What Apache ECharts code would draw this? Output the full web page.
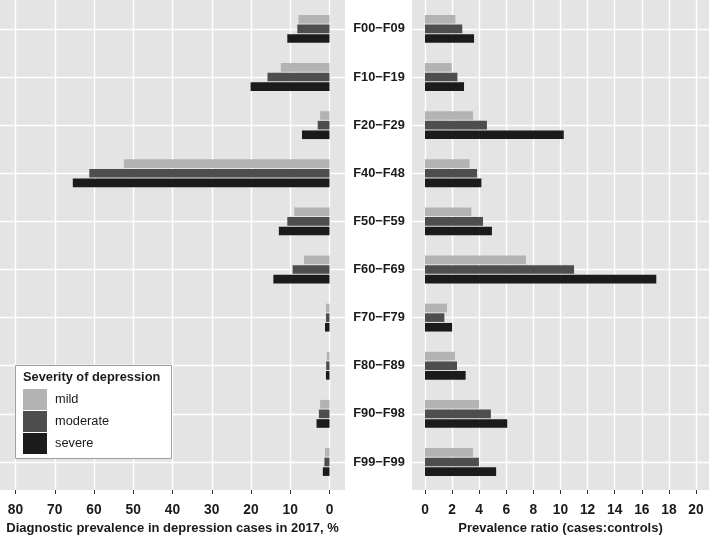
<!DOCTYPE html>
<html><head><meta charset="utf-8">
<script src="https://cdn.jsdelivr.net/npm/echarts@6/dist/echarts.min.js"></script>
<style>html,body{margin:0;padding:0;background:#fff}#c{width:709px;height:537px}</style>
</head><body><div id="c"></div>
<script>
const categories = ['F00\u2212F09','F10\u2212F19','F20\u2212F29','F40\u2212F48','F50\u2212F59','F60\u2212F69','F70\u2212F79','F80\u2212F89','F90\u2212F98','F99\u2212F99'];
const severities = ['mild','moderate','severe'];
const prevMild     = [7.9, 12.4, 2.4, 52.4, 9.0, 6.5, 0.9, 0.7, 2.4, 1.15];
const prevModerate = [8.2, 15.8, 3.0, 61.2, 10.75, 9.4, 0.9, 0.85, 2.7, 1.3];
const prevSevere   = [10.75, 20.1, 7.0, 65.4, 12.9, 14.3, 1.15, 0.9, 3.3, 1.7];
const ratioMild     = [2.24, 1.97, 3.54, 3.29, 3.42, 7.45, 1.62, 2.21, 4.0, 3.54];
const ratioModerate = [2.75, 2.39, 4.57, 3.84, 4.28, 11.0, 1.43, 2.36, 4.86, 3.98];
const ratioSevere   = [3.62, 2.88, 10.24, 4.16, 4.94, 17.07, 2.0, 3.0, 6.07, 5.25];
const leftAxisTitle = 'Diagnostic prevalence in depression cases in 2017, %';
const rightAxisTitle = 'Prevalence ratio (cases:controls)';
const legendTitle = 'Severity of depression';

const colors = {mild:'#b3b3b3', moderate:'#4e4e4e', severe:'#1b1b1b'};
const FONT = '"Liberation Sans", Arial, sans-serif';
const BG = '#e4e4e4';

const chart = echarts.init(document.getElementById('c'), null, {renderer:'canvas'});

const PT = 0, PB = 490;           // panel top/bottom
const band = 48.12;
const catTop = PT + 28.9 - band/2; // bars grid top

const G = {outerBoundsMode:'none', containLabel:false};
const grids = [
  // left panel
  Object.assign({id:'Lbg', left:0, top:PT, width:345, height:PB-PT, show:true, backgroundColor:BG, borderWidth:0, z:-2}, G),
  Object.assign({id:'Lh', left:0, top:28.9, width:345, height:band*9}, G),
  Object.assign({id:'Lv', left:15.5, top:PT, width:314, height:PB-PT}, G),
  Object.assign({id:'Lb', left:15.5, top:catTop, width:314, height:band*10}, G),
  // right panel
  Object.assign({id:'Rbg', left:412, top:PT, width:297, height:PB-PT, show:true, backgroundColor:BG, borderWidth:0, z:-2}, G),
  Object.assign({id:'Rh', left:412, top:28.9, width:297, height:band*9}, G),
  Object.assign({id:'Rv', left:425, top:PT, width:271, height:PB-PT}, G),
  Object.assign({id:'Rb', left:425, top:catTop, width:271, height:band*10}, G)
];

const gridLine = {show:true, lineStyle:{color:'#ffffff', width:1.4}};
const tickLabel = {show:true, color:'#1a1a1a', fontFamily:FONT, fontWeight:'bold', fontSize:13.8, margin:13};
const nameStyle = {color:'#1a1a1a', fontFamily:FONT, fontWeight:'bold', fontSize:13};

const xAxes = [
  {gridIndex:0, type:'value', show:false},
  {gridIndex:1, type:'value', show:false},
  {gridIndex:2, type:'value', inverse:true, min:0, max:80, interval:10,
   axisLine:{show:false}, axisTick:{show:true, length:4, lineStyle:{color:'#333'}},
   axisLabel:tickLabel, splitLine:gridLine,
   name:leftAxisTitle, nameLocation:'middle', nameGap:32, nameTextStyle:nameStyle},
  {gridIndex:3, type:'value', inverse:true, min:0, max:80, show:false},
  {gridIndex:4, type:'value', show:false},
  {gridIndex:5, type:'value', show:false},
  {gridIndex:6, type:'value', min:0, max:20, interval:2,
   axisLine:{show:false}, axisTick:{show:true, length:4, lineStyle:{color:'#333'}},
   axisLabel:tickLabel, splitLine:gridLine,
   name:rightAxisTitle, nameLocation:'middle', nameGap:32, nameTextStyle:nameStyle},
  {gridIndex:7, type:'value', min:0, max:20, show:false}
];

const yAxes = [
  {gridIndex:0, type:'value', show:false},
  {gridIndex:1, type:'category', data:categories, inverse:true, boundaryGap:false,
   axisLine:{show:false}, axisTick:{show:false}, axisLabel:{show:false},
   splitLine:{show:true, interval:0, lineStyle:{color:'#ffffff', width:1.4}}},
  {gridIndex:2, type:'value', show:false},
  {gridIndex:3, type:'category', data:categories, inverse:true, position:'right',
   axisLine:{show:false}, axisTick:{show:false}, splitLine:{show:false},
   axisLabel:{show:true, interval:0, align:'center', margin:49.5, color:'#1a1a1a',
     fontFamily:FONT, fontWeight:'bold', fontSize:12.8}},
  {gridIndex:4, type:'value', show:false},
  {gridIndex:5, type:'category', data:categories, inverse:true, boundaryGap:false,
   axisLine:{show:false}, axisTick:{show:false}, axisLabel:{show:false},
   splitLine:{show:true, interval:0, lineStyle:{color:'#ffffff', width:1.4}}},
  {gridIndex:6, type:'value', show:false},
  {gridIndex:7, type:'category', data:categories, inverse:true, show:false}
];

function barSeries(name, data, axisIdx) {
  return {
    name: name, type:'bar', xAxisIndex:axisIdx, yAxisIndex:axisIdx,
    data: data, barWidth:8.6, barGap:'12%',
    itemStyle:{color:colors[name]}, z:5, silent:true, animation:false
  };
}

const series = [
  barSeries('mild', prevMild, 3),
  barSeries('moderate', prevModerate, 3),
  barSeries('severe', prevSevere, 3),
  barSeries('mild', ratioMild, 7),
  barSeries('moderate', ratioModerate, 7),
  barSeries('severe', ratioSevere, 7)
];

chart.setOption({
  animation:false,
  grid: grids,
  xAxis: xAxes,
  yAxis: yAxes,
  series: series,
  legend: {
    data: severities, orient:'vertical', left:23, top:389, padding:0,
    itemWidth:24, itemHeight:21, itemGap:1, icon:'rect', z:30,
    textStyle:{color:'#1a1a1a', fontFamily:FONT, fontSize:12.8, padding:[0,0,0,3]},
    selectedMode:false
  },
  graphic: [
    {type:'rect', z:20, shape:{x:15.5, y:365.5, width:156, height:93},
     style:{fill:'#ffffff', stroke:'#a0a0a0', lineWidth:1}},
    {type:'text', z:21, x:23, y:371,
     style:{text:legendTitle, fill:'#1a1a1a', font:'bold 12.8px ' + FONT}}
  ]
});
</script></body></html>
